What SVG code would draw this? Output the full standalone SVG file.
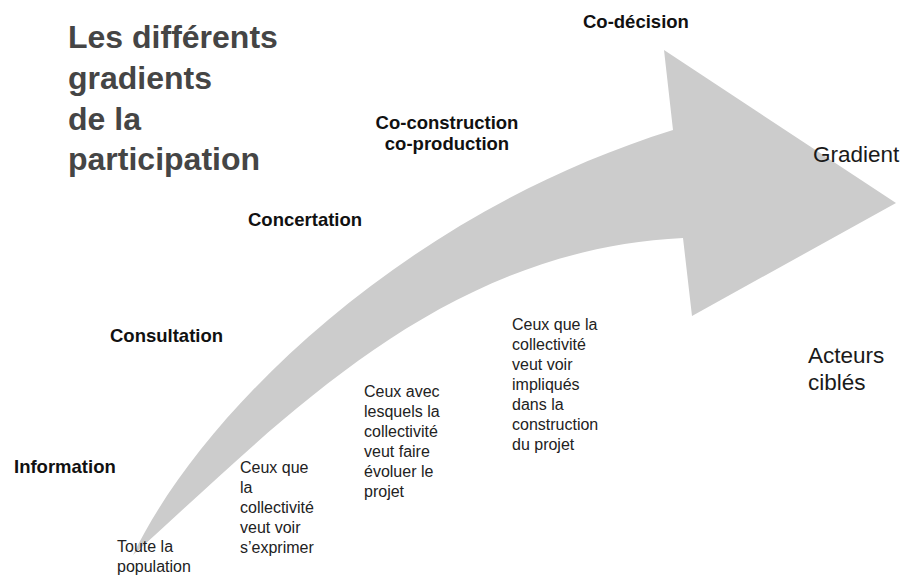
<svg xmlns="http://www.w3.org/2000/svg" width="905" height="577" viewBox="0 0 905 577">
  <style>
    .title { font-family: "Liberation Sans", Arial, sans-serif; font-weight: bold; font-size: 32px; fill: #454545; }
    .level { font-family: "Liberation Sans", Arial, sans-serif; font-weight: bold; font-size: 18.5px; fill: #111111; }
    .axis { font-family: "Liberation Sans", Arial, sans-serif; font-size: 22.5px; fill: #1a1a1a; }
    .who { font-family: "Liberation Sans", Arial, sans-serif; font-size: 16px; fill: #222222; }
    .arrow { fill: #cccccc; stroke: none; }
  </style>
  <rect width="905" height="577" fill="#ffffff"/>

  <g id="gradient-arrow">
    <path class="arrow" d="M133,555 C200,415 400,215 673,130 L664,50 L896,203 L692,316 L683,238 C440,250 283,420 133,555 Z"/>
  </g>

  <g id="title">
    <text class="title" x="68" y="48">Les différents</text>
    <text class="title" x="68" y="89">gradients</text>
    <text class="title" x="68" y="130">de la</text>
    <text class="title" x="68" y="170">participation</text>
  </g>

  <g id="level-information"><text class="level" x="14" y="473">Information</text></g>
  <g id="level-consultation"><text class="level" x="110" y="342">Consultation</text></g>
  <g id="level-concertation"><text class="level" x="248" y="226">Concertation</text></g>
  <g id="level-coconstruction">
    <text class="level" x="447" y="129" text-anchor="middle">Co-construction</text>
    <text class="level" x="447" y="150" text-anchor="middle">co-production</text>
  </g>
  <g id="level-codecision"><text class="level" x="583" y="28">Co-décision</text></g>

  <g id="axis-gradient"><text class="axis" x="813" y="162">Gradient</text></g>
  <g id="axis-acteurs">
    <text class="axis" x="808" y="363">Acteurs</text>
    <text class="axis" x="808" y="390">ciblés</text>
  </g>

  <g id="who-population">
    <text class="who" x="117" y="552">Toute la</text>
    <text class="who" x="117" y="572">population</text>
  </g>
  <g id="who-exprimer">
    <text class="who" x="240" y="473">Ceux que</text>
    <text class="who" x="240" y="493">la</text>
    <text class="who" x="240" y="513">collectivité</text>
    <text class="who" x="240" y="533">veut voir</text>
    <text class="who" x="240" y="553">s’exprimer</text>
  </g>
  <g id="who-evoluer">
    <text class="who" x="364" y="397">Ceux avec</text>
    <text class="who" x="364" y="417">lesquels la</text>
    <text class="who" x="364" y="437">collectivité</text>
    <text class="who" x="364" y="457">veut faire</text>
    <text class="who" x="364" y="477">évoluer le</text>
    <text class="who" x="364" y="497">projet</text>
  </g>
  <g id="who-impliques">
    <text class="who" x="512" y="330">Ceux que la</text>
    <text class="who" x="512" y="350">collectivité</text>
    <text class="who" x="512" y="370">veut voir</text>
    <text class="who" x="512" y="390">impliqués</text>
    <text class="who" x="512" y="410">dans la</text>
    <text class="who" x="512" y="430">construction</text>
    <text class="who" x="512" y="450">du projet</text>
  </g>
</svg>
